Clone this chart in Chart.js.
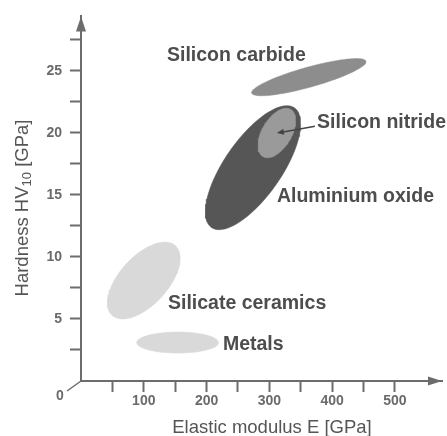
<!DOCTYPE html>
<html>
<head>
<meta charset="utf-8">
<script src="https://cdn.jsdelivr.net/npm/chart.js@4.4.1/dist/chart.umd.min.js"></script>
<style>
  html, body { margin: 0; padding: 0; background: #ffffff; }
  #wrap { width: 447px; height: 436px; }
</style>
</head>
<body>
<div id="wrap"><canvas id="c"></canvas></div>
<script>
// Property fields: elastic modulus E [GPa] against Vickers hardness HV10 [GPa]
const materials     = ['Silicon nitride', 'Aluminium oxide', 'Silicon carbide', 'Silicate ceramics', 'Metals'];
const modulusMid    = [312, 274, 363, 100, 154];    // centre of E range
const modulusHalf   = [30, 76, 91, 58, 65];         // half width of E range
const hardnessMid   = [20.0, 17.2, 24.5, 8.1, 3.1]; // centre of HV range
const hardnessHalf  = [2.0, 5.0, 1.5, 3.1, 0.85];   // half width of HV range
const correlation   = [0.5, 0.71, 0.83, 0.58, 0];   // E-HV coupling (tilt of field)

const xTickValues = [50, 100, 150, 200, 250, 300, 350, 400, 450, 500];
const xTickLabels = ['', '100', '', '200', '', '300', '', '400', '', '500'];
const yTickValues = [2.5, 5, 7.5, 10, 12.5, 15, 17.5, 20, 22.5, 25, 27.5];
const yTickLabels = ['', '5', '', '10', '', '15', '', '20', '', '25', ''];

// Styling
const fieldColors = ['#9a9a9a', '#565656', '#8d8d8d', '#d9d9d9', '#d9d9d9'];
const axisColor = '#6c6c6c';
const fontFamily = '"Liberation Sans", Arial, sans-serif';
const labelFont = 'bold 19.5px ' + fontFamily;
// label anchors: left edge E, baseline HV
const labelAnchors = [[376, 20.38], [312, 14.41], [137, 25.82], [138.5, 5.80], [226, 2.47]];

// Closed outline of a property field in data units
function fieldOutline(i) {
  const pts = [];
  const n = 120;
  const r = correlation[i];
  const s = Math.sqrt(1 - r * r);
  for (let k = 0; k <= n; k++) {
    const t = (k / n) * 2 * Math.PI;
    pts.push({
      x: modulusMid[i] + modulusHalf[i] * Math.cos(t),
      y: hardnessMid[i] + hardnessHalf[i] * (r * Math.cos(t) + s * Math.sin(t))
    });
  }
  return pts;
}

const datasets = materials.map((m, i) => ({
  label: m,
  data: fieldOutline(i),
  showLine: true,
  fill: 'shape',
  backgroundColor: fieldColors[i],
  borderColor: fieldColors[i],
  borderWidth: 0.5,
  pointRadius: 0,
  pointHoverRadius: 0,
  tension: 0,
  order: i
}));

const decorations = {
  id: 'decorations',
  afterDraw(chart) {
    const ctx = chart.ctx;
    const xs = chart.scales.x, ys = chart.scales.y;
    const area = chart.chartArea;
    ctx.save();

    // axis arrowheads
    ctx.fillStyle = axisColor;
    ctx.beginPath();
    ctx.moveTo(area.left, area.top);
    ctx.lineTo(area.left - 5, area.top + 15);
    ctx.lineTo(area.left + 5, area.top + 15);
    ctx.closePath();
    ctx.fill();
    ctx.beginPath();
    ctx.moveTo(area.right, area.bottom);
    ctx.lineTo(area.right - 14, area.bottom - 4.5);
    ctx.lineTo(area.right - 14, area.bottom + 4.5);
    ctx.closePath();
    ctx.fill();

    // origin label with leader line
    const ox = xs.getPixelForValue(0), oy = ys.getPixelForValue(0);
    ctx.strokeStyle = axisColor;
    ctx.lineWidth = 1.5;
    ctx.beginPath();
    ctx.moveTo(ox, oy);
    ctx.lineTo(ox - 14, oy + 10);
    ctx.stroke();
    ctx.fillStyle = '#6a6a6a';
    ctx.font = 'bold 14px ' + fontFamily;
    ctx.textAlign = 'center';
    ctx.textBaseline = 'middle';
    ctx.fillText('0', ox - 21, oy + 15);

    // axis titles
    ctx.fillStyle = '#555555';
    ctx.font = '18.5px ' + fontFamily;
    ctx.textAlign = 'center';
    ctx.textBaseline = 'alphabetic';
    ctx.fillText('Elastic modulus E [GPa]', 272, 433);

    ctx.save();
    ctx.translate(28, 208);
    ctx.rotate(-Math.PI / 2);
    const big = '18.5px ' + fontFamily;
    const small = '13px ' + fontFamily;
    const p1 = 'Hardness HV', p2 = '10', p3 = ' [GPa]';
    ctx.font = big;
    const w1 = ctx.measureText(p1).width, w3 = ctx.measureText(p3).width;
    ctx.font = small;
    const w2 = ctx.measureText(p2).width;
    let x = -(w1 + w2 + w3) / 2;
    ctx.textAlign = 'left';
    ctx.font = big; ctx.fillText(p1, x, 0); x += w1;
    ctx.font = small; ctx.fillText(p2, x, 3); x += w2;
    ctx.font = big; ctx.fillText(p3, x, 0);
    ctx.restore();

    // field labels
    ctx.font = labelFont;
    ctx.fillStyle = '#4d4d4d';
    ctx.textAlign = 'left';
    ctx.textBaseline = 'alphabetic';
    materials.forEach((m, i) => {
      const a = labelAnchors[i];
      ctx.fillText(m, xs.getPixelForValue(a[0]), ys.getPixelForValue(a[1]));
    });

    // pointer from the silicon nitride label into its field
    const sx = xs.getPixelForValue(372.6), sy = ys.getPixelForValue(20.54);
    const tx = xs.getPixelForValue(modulusMid[0]), ty = ys.getPixelForValue(hardnessMid[0]);
    ctx.strokeStyle = '#444444';
    ctx.lineWidth = 1.5;
    ctx.beginPath(); ctx.moveTo(sx, sy); ctx.lineTo(tx + 5, ty - 0.8); ctx.stroke();
    const ang = Math.atan2(ty - sy, tx - sx);
    ctx.fillStyle = '#444444';
    ctx.beginPath();
    ctx.moveTo(tx, ty);
    ctx.lineTo(tx - 7 * Math.cos(ang) + 3 * Math.sin(ang), ty - 7 * Math.sin(ang) - 3 * Math.cos(ang));
    ctx.lineTo(tx - 7 * Math.cos(ang) - 3 * Math.sin(ang), ty - 7 * Math.sin(ang) + 3 * Math.cos(ang));
    ctx.closePath();
    ctx.fill();

    ctx.restore();
  }
};

new Chart(document.getElementById('c'), {
  type: 'scatter',
  data: { datasets },
  options: {
    responsive: true,
    maintainAspectRatio: false,
    animation: false,
    events: [],
    layout: { padding: { top: 12, right: 5, left: 0, bottom: 0 } },
    plugins: {
      legend: { display: false },
      tooltip: { enabled: false }
    },
    scales: {
      x: {
        type: 'linear',
        min: 0,
        max: 575,
        afterBuildTicks(scale) { scale.ticks = xTickValues.map(v => ({ value: v })); },
        afterFit(scale) { scale.height = 55; },
        ticks: {
          autoSkip: false,
          maxRotation: 0,
          padding: 1,
          color: '#6a6a6a',
          font: { family: fontFamily, size: 14, weight: 'bold' },
          callback: (v, i) => xTickLabels[i]
        },
        grid: {
          drawOnChartArea: false,
          drawTicks: true,
          tickLength: 11,
          tickColor: axisColor,
          tickWidth: 2
        },
        border: { display: true, color: axisColor, width: 2 }
      },
      y: {
        type: 'linear',
        min: 0,
        max: 29.4,
        afterBuildTicks(scale) { scale.ticks = yTickValues.map(v => ({ value: v })); },
        afterFit(scale) { scale.width = 81; },
        ticks: {
          autoSkip: false,
          padding: 8,
          color: '#6a6a6a',
          font: { family: fontFamily, size: 14, weight: 'bold' },
          callback: (v, i) => yTickLabels[i]
        },
        grid: {
          drawOnChartArea: false,
          drawTicks: true,
          tickLength: 11,
          tickColor: axisColor,
          tickWidth: 2
        },
        border: { display: true, color: axisColor, width: 2 }
      }
    }
  },
  plugins: [decorations]
});
</script>
</body>
</html>
